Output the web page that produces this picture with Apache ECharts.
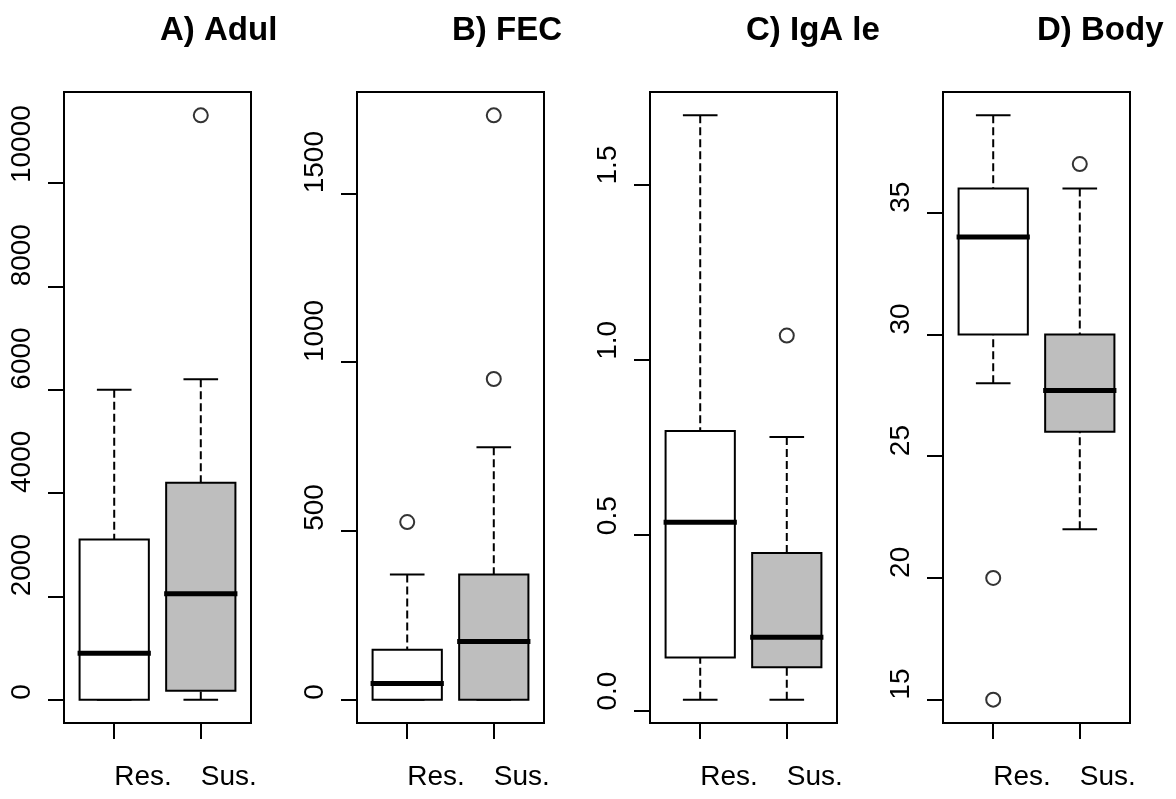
<!doctype html>
<html lang="en">
<head>
    <meta charset="UTF-8">
    <title>Res. vs Sus. boxplots</title>
    <script src="https://cdn.jsdelivr.net/npm/echarts@6/dist/echarts.min.js"></script>
    <style>
        html, body { margin: 0; padding: 0; background: #ffffff; }
        #main { width: 1176px; height: 799px; }
    </style>
</head>
<body>
<div id="main"></div>
<script>
    const groups = ['Res.', 'Sus.'];
    const titles = ['A) Adul', 'B) FEC', 'C) IgA le', 'D) Body'];

    // each box: lower whisker, Q1, median, Q3, upper whisker
    const adultRes = [0, 0, 900, 3100, 6000];
    const adultSus = [0, 174, 2050, 4200, 6200];
    const adultOut = [[2, 11310]];
    const adultTicks = [0, 2000, 4000, 6000, 8000, 10000];

    const fecRes = [0, 0, 48, 148, 371];
    const fecSus = [0, 0, 172, 371, 748];
    const fecOut = [[1, 526], [2, 950], [2, 1731]];
    const fecTicks = [0, 500, 1000, 1500];

    const igaRes = [0.031, 0.151, 0.537, 0.797, 1.697];
    const igaSus = [0.031, 0.123, 0.209, 0.449, 0.78];
    const igaOut = [[2, 1.069]];
    const igaTicks = [0, 0.5, 1.0, 1.5];
    const igaTickLabels = ['0.0', '0.5', '1.0', '1.5'];

    const bodyRes = [28, 30, 34, 36, 39];
    const bodySus = [22, 26, 27.7, 30, 36];
    const bodyOut = [[1, 20], [1, 15], [2, 37]];
    const bodyTicks = [15, 20, 25, 30, 35];

    const panels = [
        {res: adultRes, sus: adultSus, out: adultOut, ticks: adultTicks, labels: null},
        {res: fecRes, sus: fecSus, out: fecOut, ticks: fecTicks, labels: null},
        {res: igaRes, sus: igaSus, out: igaOut, ticks: igaTicks, labels: igaTickLabels},
        {res: bodyRes, sus: bodySus, out: bodyOut, ticks: bodyTicks, labels: null}
    ];

    const font = "'Liberation Sans', Arial, sans-serif";
    const panelLeft = [64, 357, 650, 943];
    const titleLeft = [160, 452, 746, 1037];

    function renderBox(params, api) {
        let x = api.value(0);
        let lo = api.coord([x, api.value(1)]);
        let q1 = api.coord([x, api.value(2)]);
        let med = api.coord([x, api.value(3)]);
        let q3 = api.coord([x, api.value(4)]);
        let hi = api.coord([x, api.value(5)]);
        let half = api.size([0.4, 0])[0];
        let cap = half / 2;
        let fill = x === 1 ? '#ffffff' : '#bebebe';
        let dashed = {stroke: '#000', lineWidth: 2, lineDash: [8, 4]};
        let solid = {stroke: '#000', lineWidth: 2};
        return {
            type: 'group',
            children: [
                {type: 'line', shape: {x1: hi[0], y1: hi[1], x2: q3[0], y2: q3[1]}, style: dashed},
                {type: 'line', shape: {x1: lo[0], y1: lo[1], x2: q1[0], y2: q1[1]}, style: dashed},
                {type: 'line', shape: {x1: hi[0] - cap, y1: hi[1], x2: hi[0] + cap, y2: hi[1]}, style: solid},
                {type: 'line', shape: {x1: lo[0] - cap, y1: lo[1], x2: lo[0] + cap, y2: lo[1]}, style: solid},
                {type: 'rect', shape: {x: q3[0] - half, y: q3[1], width: half * 2, height: q1[1] - q3[1]},
                    style: {fill: fill, stroke: '#000', lineWidth: 2}},
                {type: 'line', shape: {x1: med[0] - half - 2, y1: med[1], x2: med[0] + half + 2, y2: med[1]},
                    style: {stroke: '#000', lineWidth: 5}}
            ]
        };
    }

    let option = {
        animation: false,
        backgroundColor: '#ffffff',
        title: [], grid: [], xAxis: [], yAxis: [], series: []
    };

    panels.forEach(function (p, i) {
        let all = p.res.concat(p.sus, p.out.map(function (o) { return o[1]; }));
        let lo = Math.min.apply(null, all);
        let hi = Math.max.apply(null, all);
        let pad = (hi - lo) * 0.04;

        option.title.push({
            text: titles[i], left: titleLeft[i], top: 14, padding: 0,
            textStyle: {fontFamily: font, fontSize: 33, fontWeight: 'bold', color: '#000'}
        });
        option.grid.push({
            left: panelLeft[i], top: 92, width: 187, height: 631,
            show: true, borderColor: '#000', borderWidth: 2, backgroundColor: 'transparent'
        });
        option.xAxis.push({
            type: 'value', gridIndex: i, min: 0.42, max: 2.58, position: 'bottom',
            axisLine: {show: false, onZero: false}, splitLine: {show: false},
            axisTick: {show: true, customValues: [1, 2], length: 16, lineStyle: {color: '#000', width: 2}},
            axisLabel: {
                customValues: [1, 2], formatter: function (v) { return groups[Math.round(v) - 1]; },
                align: 'left', margin: 40, fontSize: 28, fontFamily: font, color: '#000'
            }
        });
        option.yAxis.push({
            type: 'value', gridIndex: i, min: lo - pad, max: hi + pad,
            axisLine: {show: false, onZero: false}, splitLine: {show: false},
            axisTick: {show: true, customValues: p.ticks, length: 16, lineStyle: {color: '#000', width: 2}},
            axisLabel: {
                customValues: p.ticks, rotate: 90, align: 'left', verticalAlign: 'bottom', margin: 28,
                fontSize: 28, fontFamily: font, color: '#000',
                formatter: function (v) {
                    let k = p.ticks.indexOf(v);
                    return p.labels && k >= 0 ? p.labels[k] : String(v);
                }
            }
        });
        option.series.push({
            type: 'custom', xAxisIndex: i, yAxisIndex: i,
            renderItem: renderBox,
            encode: {x: 0, y: [1, 2, 3, 4, 5]},
            data: [[1].concat(p.res), [2].concat(p.sus)]
        });
        option.series.push({
            type: 'scatter', xAxisIndex: i, yAxisIndex: i,
            symbol: 'emptyCircle', symbolSize: 14,
            itemStyle: {color: '#000', borderWidth: 1.5},
            data: p.out
        });
    });

    let myChart = echarts.init(document.getElementById('main'));
    myChart.setOption(option);
</script>
</body>
</html>
